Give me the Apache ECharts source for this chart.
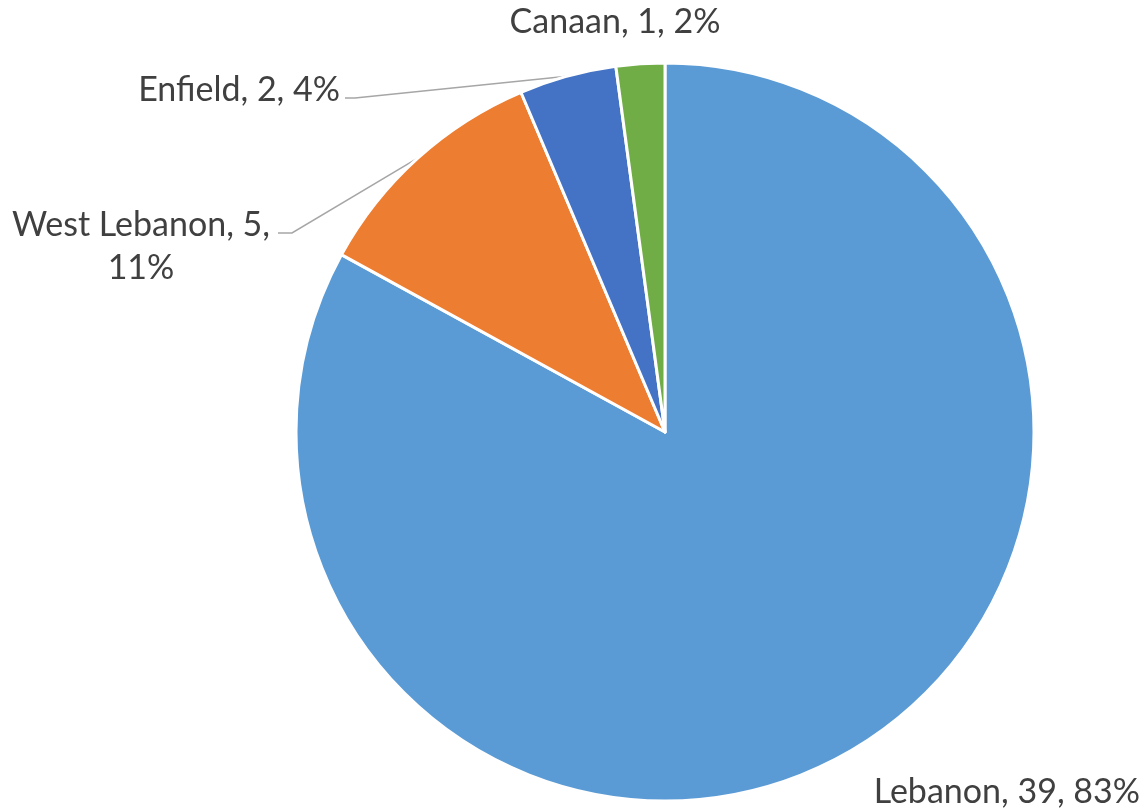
<!DOCTYPE html>
<html>
<head>
<meta charset="utf-8">
<script src="https://cdn.jsdelivr.net/npm/echarts@6/dist/echarts.min.js"></script>
<style>
  html, body { margin: 0; padding: 0; background: #fff; }
  #chart { width: 1148px; height: 812px; }
</style>
</head>
<body>
<div id="chart"></div>
<script>
// data
const towns = ['Lebanon', 'West Lebanon', 'Enfield', 'Canaan'];
const counts = [39, 5, 2, 1];
const colors = ['#5B9BD5', '#ED7D31', '#4472C4', '#70AD47'];

// pie geometry (px)
const cx = 665, cy = 432, r = 369;

// where each label sits, by data index
const labelPos = [
  { x: 1140, y: 792, align: 'right' },
  { x: 141, y: 247, align: 'center' },
  { x: 340, y: 90, align: 'right' },
  { x: 615, y: 22, align: 'center' }
];

// point on the pie edge, angle measured from 12 o'clock going left
const edge = (deg) => {
  const a = deg * Math.PI / 180;
  return [cx - r * Math.sin(a), cy - r * Math.cos(a)];
};

const chart = echarts.init(document.getElementById('chart'));

const option = {
  animation: false,
  series: [{
    type: 'pie',
    center: [cx, cy],
    radius: r,
    startAngle: 90,
    clockwise: true,
    avoidLabelOverlap: false,
    percentPrecision: 0,
    itemStyle: { borderColor: '#fff', borderWidth: 3 },
    label: {
      show: true,
      formatter: '{b}, {c}, {d}%',
      fontFamily: 'Lato',
      fontSize: 34,
      lineHeight: 43,
      color: '#404040'
    },
    labelLine: {
      show: true,
      lineStyle: { color: '#A6A6A6', width: 1.5 }
    },
    emphasis: { disabled: true },
    labelLayout: function (params) {
      const p = labelPos[params.dataIndex];
      const out = { x: p.x, y: p.y, align: p.align, verticalAlign: 'middle' };
      if (params.dataIndex === 1) {
        out.labelLinePoints = [edge(42), [292, 233], [278, 233]];
      } else if (params.dataIndex === 2) {
        out.labelLinePoints = [edge(15.4), [355, 98], [345, 98]];
      }
      return out;
    },
    data: towns.map((name, i) => {
      const item = { name: name, value: counts[i], itemStyle: { color: colors[i] } };
      if (i === 0 || i === 3) item.labelLine = { show: false };
      if (i === 1) item.label = { formatter: '{b}, {c},\n{d}%' };
      return item;
    })
  }]
};

chart.setOption(option);
</script>
</body>
</html>
